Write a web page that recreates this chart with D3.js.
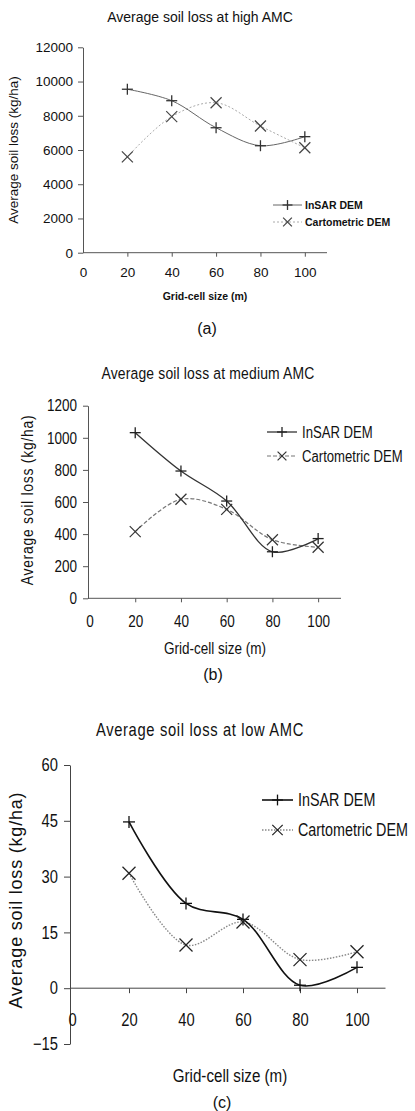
<!DOCTYPE html>
<html>
<head>
<meta charset="utf-8">
<script src="https://cdn.jsdelivr.net/npm/d3@7"></script>
<style>
  html, body { margin: 0; padding: 0; background: #fff; }
  svg { display: block; }
</style>
</head>
<body>
<svg id="chart" width="415" height="1111"></svg>
<script>
// ---------------- DATA ----------------
const gridSizes = [20, 40, 60, 80, 100];
const xTickValues = [0, 20, 40, 60, 80, 100];

const highInsar = [9550, 8880, 7300, 6250, 6780];
const highCarto = [5600, 7950, 8760, 7400, 6130];
const highTicks = [0, 2000, 4000, 6000, 8000, 10000, 12000];

const medInsar = [1032, 793, 606, 290, 372];
const medCarto = [415, 617, 554, 365, 318];
const medTicks = [0, 200, 400, 600, 800, 1000, 1200];

const lowInsar = [44.7, 22.8, 18.5, 0.8, 5.6];
const lowCarto = [30.9, 11.6, 17.8, 7.7, 9.8];
const lowTicks = [-15, 0, 15, 30, 45, 60];

const seriesNames = ["InSAR DEM", "Cartometric DEM"];
const panelTitles = ["Average soil loss at high AMC", "Average soil loss at medium AMC", "Average soil loss at low AMC"];
const panelLabels = ["(a)", "(b)", "(c)"];
const yTitle = "Average soil loss (kg/ha)";
const xTitle = "Grid-cell size (m)";

// ---------------- DRAWING ----------------
const REG = "'Liberation Sans', Arial, sans-serif";
const svg = d3.select("#chart");

// horizontal condensing of text (emulates a narrow face)
function condense(sel, k) {
  if (k === 1) return;
  sel.each(function () {
    const t = d3.select(this);
    const xv = +t.attr("x") || 0;
    t.attr("x", xv / k).attr("transform", `scale(${k},1)`);
  });
}

function plus(g, x, y, s, color, w) {
  g.append("line").attr("x1", x - s).attr("x2", x + s).attr("y1", y).attr("y2", y)
    .attr("stroke", color).attr("stroke-width", w);
  g.append("line").attr("x1", x).attr("x2", x).attr("y1", y - s).attr("y2", y + s)
    .attr("stroke", color).attr("stroke-width", w);
}
function cross(g, x, y, s, color, w) {
  g.append("line").attr("x1", x - s).attr("x2", x + s).attr("y1", y - s).attr("y2", y + s)
    .attr("stroke", color).attr("stroke-width", w);
  g.append("line").attr("x1", x - s).attr("x2", x + s).attr("y1", y + s).attr("y2", y - s)
    .attr("stroke", color).attr("stroke-width", w);
}

function panel(cfg) {
  const g = svg.append("g");
  const k = cfg.k;
  const x = d3.scaleLinear().domain([0, 110]).range(cfg.xRange);
  const y = d3.scaleLinear().domain(cfg.yDomain).range(cfg.yRange);

  // title
  g.append("text").attr("x", cfg.title.x).attr("y", cfg.title.y).attr("text-anchor", "middle")
    .attr("font-family", REG).attr("font-size", cfg.title.size)
    .attr("letter-spacing", cfg.title.ls || 0).attr("fill", "#111").text(cfg.title.text)
    .call(condense, cfg.title.k || k);

  // y axis
  const yAxis = d3.axisLeft(y).tickValues(cfg.yTicks).tickSize(cfg.yTickSize)
    .tickSizeOuter(0).tickPadding(cfg.yPad).tickFormat(d3.format("d"));
  const ya = g.append("g").attr("transform", `translate(${x(0) + cfg.yAxisShift},0)`).call(yAxis);
  ya.selectAll("text").attr("font-family", REG).attr("font-size", cfg.tickSize).attr("fill", "#111")
    .call(condense, k);
  ya.selectAll("path,line").attr("stroke", cfg.axisColor).attr("stroke-width", 1);

  // x axis
  const xAxis = d3.axisBottom(x).tickValues(xTickValues).tickSize(cfg.xTickSize)
    .tickSizeOuter(0).tickPadding(cfg.xPad);
  const xa = g.append("g").attr("transform", `translate(0,${y(0)})`).call(xAxis);
  xa.select(".domain").attr("d", `M${x(0) + cfg.yAxisShift},0H${x(110)}`);
  xa.selectAll("text").attr("font-family", REG).attr("font-size", cfg.tickSize).attr("fill", "#111")
    .call(condense, k);
  xa.selectAll("path,line").attr("stroke", cfg.axisColor).attr("stroke-width", 1);
  xa.selectAll(".tick").filter(d => d === 0).select("line").remove();

  // axis titles
  const yk = cfg.yTitle.k || k;
  g.append("text")
    .attr("transform", `translate(${cfg.yTitle.x},${cfg.yTitle.y}) rotate(-90) scale(${yk},1)`)
    .attr("text-anchor", "middle").attr("font-family", REG).attr("font-size", cfg.yTitle.size)
    .attr("letter-spacing", cfg.yTitle.ls || 0).attr("fill", "#111").text(yTitle);
  g.append("text").attr("x", cfg.xTitle.x).attr("y", cfg.xTitle.y).attr("text-anchor", "middle")
    .attr("font-family", REG).attr("font-size", cfg.xTitle.size)
    .attr("font-weight", cfg.xTitle.weight || "normal").attr("fill", "#111").text(xTitle)
    .call(condense, cfg.xTitle.k || k);
  g.append("text").attr("x", cfg.label.x).attr("y", cfg.label.y).attr("text-anchor", "middle")
    .attr("font-family", REG).attr("font-size", cfg.label.size).attr("fill", "#111").text(cfg.label.text);

  // lines
  const line = d3.line().x((d, i) => x(gridSizes[i])).y(d => y(d)).curve(d3.curveCatmullRom.alpha(0.5));
  const st = cfg.styles;
  g.append("path").datum(cfg.carto).attr("d", line).attr("fill", "none")
    .attr("stroke", st[1].color).attr("stroke-width", st[1].width).attr("stroke-dasharray", st[1].dash);
  g.append("path").datum(cfg.insar).attr("d", line).attr("fill", "none")
    .attr("stroke", st[0].color).attr("stroke-width", st[0].width).attr("stroke-dasharray", st[0].dash);

  // markers
  cfg.insar.forEach((v, i) => plus(g, x(gridSizes[i]), y(v), cfg.plusSize, st[0].mcolor, 1.3));
  cfg.carto.forEach((v, i) => cross(g, x(gridSizes[i]), y(v), cfg.crossSize, st[1].mcolor, 1.2));

  // legend
  const L = cfg.legend;
  L.ys.forEach((ly, i) => {
    g.append("line").attr("x1", L.x1).attr("x2", L.x2).attr("y1", ly).attr("y2", ly)
      .attr("stroke", st[i].color).attr("stroke-width", st[i].width).attr("stroke-dasharray", st[i].dash);
    const mx = (L.x1 + L.x2) / 2;
    if (i === 0) plus(g, mx, ly, cfg.plusSize * 0.9, st[0].mcolor, 1.3);
    else cross(g, mx, ly, cfg.crossSize * 0.8, st[1].mcolor, 1.2);
    g.append("text").attr("x", L.tx).attr("y", ly).attr("dy", "0.35em")
      .attr("font-family", REG).attr("font-size", L.size).attr("font-weight", L.weight || "normal")
      .attr("fill", "#111").text(seriesNames[i])
      .call(condense, L.k || k);
  });
}

// (a) high AMC
panel({
  k: 1,
  xRange: [83, 327], yDomain: [0, 12000], yRange: [252.7, 47.3], yTicks: highTicks,
  insar: highInsar, carto: highCarto, yAxisShift: 0,
  yTickSize: 5, yPad: 5, xTickSize: 4, xPad: 11,
  tickSize: 13.5, axisColor: "#555",
  title: { text: panelTitles[0], x: 200, y: 22, size: 14 },
  yTitle: { x: 18, y: 150, size: 13.5 },
  xTitle: { x: 205, y: 300, size: 10.5, weight: "bold" },
  label: { text: panelLabels[0], x: 207, y: 334, size: 16 },
  styles: [
    { color: "#666", width: 1, dash: null, mcolor: "#333" },
    { color: "#aaa", width: 1, dash: "2,2", mcolor: "#444" }
  ],
  plusSize: 5.5, crossSize: 5.5,
  legend: { x1: 273, x2: 302, tx: 305, ys: [205, 222], size: 10.5, weight: "bold" }
});

// (b) medium AMC
panel({
  k: 0.82,
  xRange: [89.5, 341], yDomain: [0, 1200], yRange: [598.3, 405.7], yTicks: medTicks,
  insar: medInsar, carto: medCarto, yAxisShift: -1.5,
  yTickSize: 5, yPad: 6, xTickSize: 4, xPad: 13,
  tickSize: 16.5, axisColor: "#555",
  title: { text: panelTitles[1], x: 208, y: 379, size: 17, ls: 0.2 },
  yTitle: { x: 33, y: 500, size: 17, ls: 0.9 },
  xTitle: { x: 215, y: 654, size: 16.5 },
  label: { text: panelLabels[1], x: 213, y: 680, size: 16 },
  styles: [
    { color: "#333", width: 1.3, dash: null, mcolor: "#222" },
    { color: "#777", width: 1.2, dash: "4,2", mcolor: "#333" }
  ],
  plusSize: 5.5, crossSize: 5.5,
  legend: { x1: 267, x2: 297, tx: 302, ys: [432, 456], size: 16 }
});

// (c) low AMC
panel({
  k: 0.82,
  xRange: [72, 385.5], yDomain: [-15, 60], yRange: [1044, 765], yTicks: lowTicks,
  insar: lowInsar, carto: lowCarto, yAxisShift: -2,
  yTickSize: 6, yPad: 6, xTickSize: 5, xPad: 20,
  tickSize: 18, axisColor: "#444",
  title: { text: panelTitles[2], x: 200, y: 736, size: 18, ls: 0.8 },
  yTitle: { x: 22, y: 900, size: 18, ls: 0.8, k: 1 },
  xTitle: { x: 230, y: 1082, size: 18.5 },
  label: { text: panelLabels[2], x: 222, y: 1108, size: 16 },
  styles: [
    { color: "#111", width: 1.6, dash: null, mcolor: "#111" },
    { color: "#888", width: 1.4, dash: "1.5,1.5", mcolor: "#222" }
  ],
  plusSize: 6, crossSize: 6.5,
  legend: { x1: 262, x2: 293, tx: 298, ys: [800, 830], size: 17.5 }
});
</script>
</body>
</html>
